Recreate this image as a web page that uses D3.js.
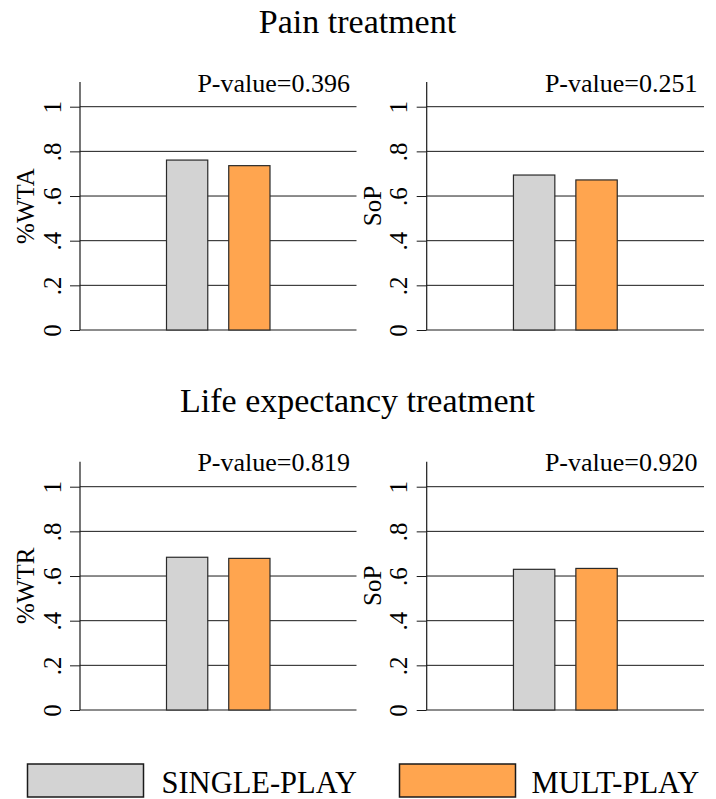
<!DOCTYPE html>
<html>
<head>
<meta charset="utf-8">
<script src="https://cdn.jsdelivr.net/npm/d3@7"></script>
<style>
  html, body { margin: 0; padding: 0; background: #fff; }
  svg { display: block; }
  svg text { font-family: "Liberation Serif", "Times New Roman", serif; }
</style>
</head>
<body>
<svg id="chart" width="716" height="799"></svg>
<script>
// Groups shown in each panel
const categories = ["SINGLE-PLAY", "MULT-PLAY"];
const colors = ["#d3d3d3", "#ffa54f"];

// Section headings (one per row of panels)
const sectionTitles = ["Pain treatment", "Life expectancy treatment"];

// Panels in reading order: top-left, top-right, bottom-left, bottom-right
const panelYLabels = ["%WTA", "SoP", "%WTR", "SoP"];
const panelPValues = ["0.396", "0.251", "0.819", "0.920"];
const singlePlay = [0.761, 0.694, 0.684, 0.630];
const multPlay   = [0.736, 0.672, 0.679, 0.634];

// Y axis ticks
const tickValues = [0, 0.2, 0.4, 0.6, 0.8, 1];
const tickLabels = ["0", ".2", ".4", ".6", ".8", "1"];

const FONT = "'Liberation Serif', 'Times New Roman', serif";
const svg = d3.select("#chart");

// Layout of the 2x2 grid
const colX = [{ left: 80, right: 356.5 }, { left: 426.7, right: 704 }];
const rowY = [{ zero: 330, one: 106.7, top: 82, titleY: 32.5 },
              { zero: 710, one: 486.7, top: 461.7, titleY: 411.5 }];

// Section titles
rowY.forEach((r, i) => {
  svg.append("text")
    .attr("x", 357.5).attr("y", r.titleY)
    .attr("text-anchor", "middle")
    .attr("font-family", FONT)
    .attr("font-size", 34)
    .attr("fill", "#000")
    .text(sectionTitles[i]);
});

function drawPanel(idx) {
  const c = colX[idx % 2];
  const r = rowY[Math.floor(idx / 2)];

  const y = d3.scaleLinear().domain([0, 1]).range([r.zero, r.one]);
  const x = d3.scaleBand().domain(categories)
    .range([c.left, c.right])
    .paddingInner(0.337).paddingOuter(1.39);

  const g = svg.append("g");

  // Horizontal grid lines at each tick
  g.selectAll("line.grid").data(tickValues).join("line")
    .attr("class", "grid")
    .attr("x1", c.left).attr("x2", c.right)
    .attr("y1", d => y(d)).attr("y2", d => y(d))
    .attr("stroke", "#1a1a1a").attr("stroke-width", 1);

  // Bars
  const vals = [singlePlay[idx], multPlay[idx]];
  g.selectAll("rect.bar").data(categories).join("rect")
    .attr("class", "bar")
    .attr("x", d => x(d))
    .attr("width", x.bandwidth())
    .attr("y", (d, i) => y(vals[i]))
    .attr("height", (d, i) => y(0) - y(vals[i]))
    .attr("fill", (d, i) => colors[i])
    .attr("stroke", "#2a2a2a").attr("stroke-width", 1.2);

  // Y axis with rotated tick labels
  const axis = d3.axisLeft(y)
    .tickValues(tickValues)
    .tickFormat((d, i) => tickLabels[i])
    .tickSize(10).tickPadding(0);
  const ax = g.append("g").attr("transform", `translate(${c.left},0)`).call(axis)
    .attr("font-family", FONT).attr("font-size", 25);
  ax.select(".domain").remove();
  ax.selectAll(".tick line").attr("stroke", "#1a1a1a").attr("stroke-width", 1);
  ax.selectAll(".tick text")
    .attr("font-size", 25)
    .attr("font-family", FONT)
    .attr("fill", "#000")
    .attr("text-anchor", "middle")
    .attr("dy", 0)
    .attr("x", 0).attr("y", 0)
    .attr("transform", "translate(-19.5,0) rotate(-90)");

  // Axis line extends above the top tick
  g.append("line")
    .attr("x1", c.left).attr("x2", c.left)
    .attr("y1", r.top).attr("y2", r.zero)
    .attr("stroke", "#1a1a1a").attr("stroke-width", 1.2);

  // Y axis title
  g.append("text")
    .attr("transform", `translate(${c.left - 46},${(r.top + r.zero) / 2}) rotate(-90)`)
    .attr("text-anchor", "middle")
    .attr("font-family", FONT)
    .attr("font-size", 25)
    .attr("fill", "#000")
    .text(panelYLabels[idx]);

  // P-value note
  g.append("text")
    .attr("x", c.right - 6.5).attr("y", r.top + 9.5)
    .attr("text-anchor", "end")
    .attr("font-family", FONT)
    .attr("font-size", 26)
    .attr("fill", "#000")
    .text("P-value=" + panelPValues[idx]);
}

[0, 1, 2, 3].forEach(drawPanel);

// Legend
const legendItems = [
  { box: 27.5, text: 161.5 },
  { box: 399.5, text: 531.5 }
];
legendItems.forEach((l, i) => {
  svg.append("rect")
    .attr("x", l.box).attr("y", 764)
    .attr("width", 116).attr("height", 33)
    .attr("fill", colors[i])
    .attr("stroke", "#1a1a1a").attr("stroke-width", 1.5);
  svg.append("text")
    .attr("x", l.text).attr("y", 792.5)
    .attr("font-family", FONT)
    .attr("font-size", 30.5)
    .attr("fill", "#000")
    .text(categories[i]);
});
</script>
</body>
</html>
